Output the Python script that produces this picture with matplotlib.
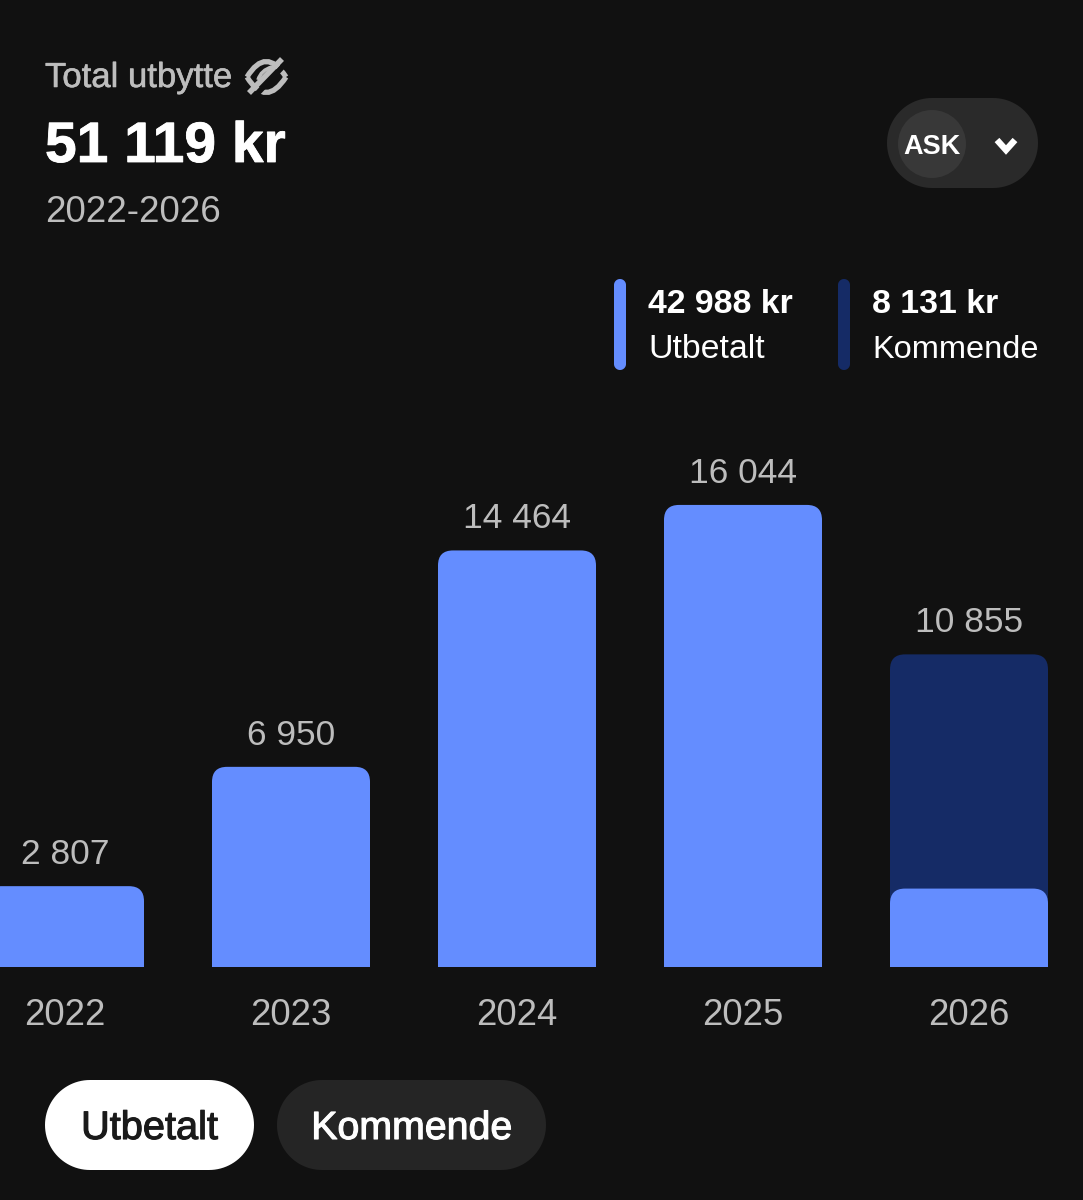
import math
import matplotlib
matplotlib.use('Agg')
import matplotlib.pyplot as plt
import matplotlib.patheffects as pe
from matplotlib.patches import PathPatch, Circle, Polygon
from matplotlib.path import Path

years = ['2022', '2023', '2024', '2025', '2026']
totals = [2807, 6950, 14464, 16044, 10855]
paid = [2807, 6950, 14464, 16044, 2723]
total_labels = ['2 807', '6 950', '14 464', '16 044', '10 855']

title = 'Total utbytte'
total_sum = '51 119 kr'
period = '2022-2026'
account = 'ASK'
legend_values = ['42 988 kr', '8 131 kr']
legend_names = ['Utbetalt', 'Kommende']

BG = '#111111'
BLUE = '#648DFF'
NAVY = '#152B66'
GREY = '#BDBDBD'

plt.rcParams['font.family'] = ['Liberation Sans', 'DejaVu Sans']

W, H = 1083, 1200
fig = plt.figure(figsize=(W / 100, H / 100), dpi=100, facecolor=BG)

# bars live in their own axes, everything else in a pixel overlay
base_y = 967
px_per_kr = 0.0288
bar_top_px = 400
ax = fig.add_axes([0, 1 - base_y / H, 1, (base_y - bar_top_px) / H])
ax.set_facecolor('none')
ax.axis('off')
step = 226
ax.set_xlim(-65 / step, (W - 65) / step)
ax.set_ylim(0, (base_y - bar_top_px) / px_per_kr)

ui = fig.add_axes([0, 0, 1, 1], zorder=3)
ui.set_facecolor('none')
ui.axis('off')
ui.set_xlim(0, W)
ui.set_ylim(H, 0)


# thin stroke to fake heavier weights, Liberation only has regular and bold
def thicken(color, width=0.4):
    return [pe.withStroke(linewidth=width, foreground=color)]


def round_top_bar(x, top, color, width=158 / step, radius_px=15, zorder=2):
    rx = radius_px / step
    ry = radius_px / px_per_kr
    left, right = x - width / 2, x + width / 2
    verts = [(left, 0), (left, top - ry), (left, top), (left + rx, top),
             (right - rx, top), (right, top), (right, top - ry),
             (right, 0), (left, 0)]
    codes = [Path.MOVETO, Path.LINETO, Path.CURVE3, Path.CURVE3,
             Path.LINETO, Path.CURVE3, Path.CURVE3,
             Path.LINETO, Path.CLOSEPOLY]
    ax.add_patch(PathPatch(Path(verts, codes), facecolor=color, edgecolor='none',
                           zorder=zorder, clip_on=False))


def pill(x0, y0, x1, y1, color, z=1):
    r = min(x1 - x0, y1 - y0) / 2
    corners = [(x1 - r, y0 + r, -90), (x1 - r, y1 - r, 0), (x0 + r, y1 - r, 90), (x0 + r, y0 + r, 180)]
    pts = []
    for cx, cy, start in corners:
        for k in range(25):
            a = math.radians(start + 90 * k / 24)
            pts.append((cx + r * math.cos(a), cy + r * math.sin(a)))
    ui.add_patch(Polygon(pts, closed=True, facecolor=color, edgecolor='none', zorder=z))


def curve(p0, p1, p2, lw, z=2):
    ui.add_patch(PathPatch(Path([p0, p1, p2], [Path.MOVETO, Path.CURVE3, Path.CURVE3]),
                           facecolor='none', edgecolor=GREY, lw=lw, zorder=z))


for i, year in enumerate(years):
    if totals[i] > paid[i]:
        round_top_bar(i, totals[i], NAVY)
    round_top_bar(i, paid[i], BLUE, zorder=3)
    ax.annotate(total_labels[i], (i, totals[i]), xytext=(0, 22), textcoords='offset pixels',
                ha='center', va='baseline', color=GREY, fontsize=25.5, annotation_clip=False)
    ax.annotate(year, (i, 0), xytext=(0, -58), textcoords='offset pixels',
                ha='center', va='baseline', color=GREY, fontsize=26.3, annotation_clip=False)

# header
ui.text(45, 87, title, color=GREY, fontsize=25, va='baseline', ha='left', path_effects=thicken(GREY))
ui.text(45, 162, total_sum, color='white', fontsize=41, fontweight='bold', va='baseline', ha='left',
        path_effects=thicken('white', 0.6))
ui.text(45, 222, period, color=GREY, fontsize=26.5, va='baseline', ha='left')

# crossed-out eye icon
curve((247, 77), (266, 46), (286, 77), 3.8)
curve((247, 77), (266, 108), (286, 77), 3.8)
curve((258, 80), (261, 70), (272, 67), 2.6)
ui.plot([255, 287], [96, 62], color=BG, lw=4, solid_capstyle='butt', zorder=3)
ui.plot([249, 282], [93, 59], color=GREY, lw=4, solid_capstyle='butt', zorder=4)

# account selector
pill(887, 98, 1038, 188, '#2A2A2A')
ui.add_patch(Circle((932, 144), 34, facecolor='#383838', edgecolor='none', zorder=2))
ui.text(932, 154, account, color='white', fontsize=19.5, fontweight='bold', va='baseline', ha='center', zorder=3)
ui.plot([997, 1006, 1015], [140, 150, 140], color='white', lw=4.6, zorder=3,
        solid_capstyle='butt', solid_joinstyle='miter')

# legend
legend_x = [614, 838]
legend_colors = [BLUE, NAVY]
legend_sizes = [24.4, 23.4]
for i in range(2):
    pill(legend_x[i], 279, legend_x[i] + 12, 370, legend_colors[i])
    ui.text(legend_x[i] + 34, 313, legend_values[i], color='white', fontsize=24.4, fontweight='bold',
            va='baseline', ha='left')
    ui.text(legend_x[i] + 34, 358, legend_names[i], color='white', fontsize=legend_sizes[i],
            va='baseline', ha='left')

# toggle buttons
pill(45, 1080, 254, 1170, 'white')
pill(277, 1080, 546, 1170, '#252525')
ui.text(149.5, 1139, legend_names[0], color='#1A1A1A', fontsize=28.6, va='baseline', ha='center', zorder=3,
        path_effects=thicken('#1A1A1A', 0.8))
ui.text(411.5, 1139, legend_names[1], color='white', fontsize=28.3, va='baseline', ha='center', zorder=3,
        path_effects=thicken('white', 0.8))

fig.savefig('out.png', dpi=100, facecolor=BG)
